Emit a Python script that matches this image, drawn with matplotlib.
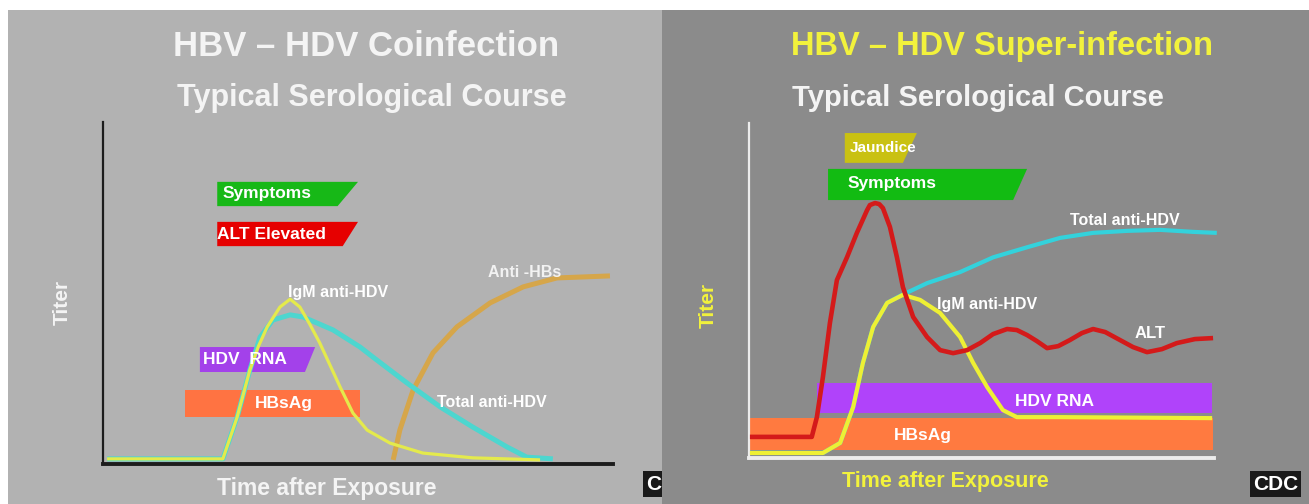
import matplotlib
matplotlib.use("Agg")
import matplotlib.pyplot as plt
from matplotlib.patches import Rectangle

plt.rcParams["font.family"] = ["Liberation Sans", "DejaVu Sans"]
plt.rcParams["font.weight"] = "bold"

W, H = 1309, 504

# ---- left panel: HBV - HDV coinfection (time 0-100, titer 0-100) ----
co_igm_t = [0.8, 23.5, 26.3, 28.8, 30.5, 32.2, 34.7, 36.7, 38.6, 40.5, 42.5, 46.5, 49.0, 51.8, 56.3, 62.7, 72.5, 85.7]
co_igm_v = [1.5, 1.5, 13.7, 27.5, 34.5, 40.1, 45.9, 48.2, 45.9, 41.0, 35.4, 22.5, 14.9, 9.9, 6.1, 3.2, 1.8, 1.2]

co_total_t = [0.8, 23.5, 26.3, 28.8, 30.8, 33.3, 36.7, 39.2, 45.1, 50.4, 52.9, 59.6, 66.1, 72.5, 79.2, 83.1, 88.2]
co_total_v = [1.5, 1.5, 13.7, 27.5, 37.1, 42.1, 43.6, 43.0, 39.2, 34.2, 31.3, 23.7, 16.7, 10.8, 5.0, 2.0, 1.5]

co_antihbs_t = [56.9, 58.2, 60.8, 64.7, 69.4, 75.9, 82.4, 89.0, 99.4]
co_antihbs_v = [1.2, 9.9, 21.6, 32.5, 40.1, 47.1, 51.8, 54.4, 55.0]

# bars: label, start, end, bottom, top, slant of right end
co_bar_names = ["Symptoms", "ALT Elevated", "HDV RNA", "HBsAg"]
co_bar_start = [22.4, 22.4, 19.0, 16.1]
co_bar_end = [50.0, 50.0, 41.6, 50.4]
co_bar_bottom = [75.4, 63.7, 26.9, 13.7]
co_bar_top = [82.5, 70.8, 34.2, 21.6]
co_bar_slant = [4.0, 3.0, 2.0, 0.0]
co_bar_colors = ["#17b817", "#e60000", "#a341ea", "#ff7342"]

# ---- right panel: HBV - HDV super-infection ----
su_alt_t = [0.2, 13.5, 14.6, 15.9, 17.4, 18.9, 21.1, 23.2, 25.4, 26.0, 27.1, 28.0, 28.8, 30.3, 31.8, 33.1, 35.3,
            38.3, 41.1, 43.9, 46.9, 49.7, 52.5, 55.5, 57.6, 59.8, 61.9, 64.1, 66.5, 69.0, 71.6, 74.0, 76.6,
            79.8, 82.6, 85.6, 88.8, 92.0, 95.9, 99.8]
su_alt_v = [6.3, 6.3, 12.2, 24.2, 40.3, 53.1, 60.0, 67.2, 74.0, 75.5, 76.1, 75.8, 74.6, 69.0, 60.0, 51.0, 42.1,
            36.1, 32.2, 31.3, 32.2, 34.3, 37.0, 38.5, 38.2, 36.7, 34.9, 32.8, 33.4, 35.2, 37.3, 38.5, 37.6,
            35.2, 33.1, 31.6, 32.5, 34.3, 35.5, 35.8]

su_total_t = [0.2, 15.9, 19.6, 22.4, 24.5, 26.7, 29.7, 32.5, 38.3, 45.4, 52.5, 59.8, 66.9, 74.0, 81.3, 88.4, 95.5, 100.6]
su_total_v = [1.5, 1.5, 4.5, 15.2, 28.4, 39.1, 46.3, 48.4, 52.2, 55.5, 59.9, 62.9, 65.7, 67.2, 67.8, 68.1, 67.5, 67.2]

su_igm_t = [0.2, 15.9, 19.6, 22.4, 24.5, 26.7, 29.7, 33.1, 36.8, 41.1, 45.4, 48.2, 51.2, 54.6, 57.6, 66.9, 99.6]
su_igm_v = [1.5, 1.5, 4.5, 15.2, 28.4, 39.1, 46.3, 48.7, 47.2, 43.3, 36.1, 28.4, 21.2, 14.3, 12.2, 12.2, 11.9]

su_bar_names = ["Jaundice", "Symptoms", "HDV RNA", "HBsAg"]
su_bar_start = [20.6, 17.0, 14.6, 0.2]
su_bar_end = [36.1, 59.8, 99.6, 99.8]
su_bar_bottom = [88.1, 77.0, 13.4, 2.4]
su_bar_top = [97.0, 86.3, 22.4, 11.9]
su_bar_slant = [3.0, 3.0, 0.0, 0.0]
su_bar_colors = ["#c9c112", "#12bb12", "#b043fa", "#ff7a40"]

fig = plt.figure(figsize=(W / 100, H / 100), dpi=100)
fig.patch.set_facecolor("white")


def fx(px):
    return px / W


def fy(py):
    return 1 - py / H


# panel backgrounds
fig.add_artist(Rectangle((fx(8), 0), fx(662) - fx(8), fy(10), transform=fig.transFigure,
                         facecolor="#b2b2b2", edgecolor="none", zorder=0))
fig.add_artist(Rectangle((fx(662), 0), 1 - fx(662), fy(10), transform=fig.transFigure,
                         facecolor="#8b8b8b", edgecolor="none", zorder=1))


def draw_bars(ax, start, end, bottom, top, slant, colors):
    for s, e, b, t, sl, c in zip(start, end, bottom, top, slant, colors):
        ax.fill([s, s, e, e - sl], [b, t, t, b], color=c, lw=0, zorder=1)


def setup(ax, spine_color, left_w, bottom_w):
    ax.set_xlim(0, 100)
    ax.set_ylim(0, 100)
    ax.patch.set_alpha(0)
    ax.set_xticks([])
    ax.set_yticks([])
    for s in ["top", "right"]:
        ax.spines[s].set_visible(False)
    ax.spines["left"].set_color(spine_color)
    ax.spines["bottom"].set_color(spine_color)
    ax.spines["left"].set_linewidth(left_w)
    ax.spines["bottom"].set_linewidth(bottom_w)
    ax.set_zorder(2)


lab = dict(color="white", fontweight="bold", zorder=5)

# ---- left ----
ax1 = fig.add_axes([fx(103), fy(464), (613 - 103) / W, (464 - 122) / H])
setup(ax1, "#1c1c1c", 1.6, 2.8)
draw_bars(ax1, co_bar_start, co_bar_end, co_bar_bottom, co_bar_top, co_bar_slant, co_bar_colors)
ax1.text(23.5, 79.0, co_bar_names[0], fontsize=12.5, va="center", **lab)
ax1.text(22.4, 67.2, co_bar_names[1], fontsize=12.5, va="center", **lab)
ax1.text(19.6, 30.6, "HDV  RNA", fontsize=12.5, va="center", **lab)
ax1.text(35.5, 17.6, co_bar_names[3], fontsize=12.5, va="center", ha="center", **lab)
ax1.plot(co_antihbs_t, co_antihbs_v, color="#d6a64a", lw=3.6, solid_capstyle="butt",
         solid_joinstyle="round", zorder=2)
ax1.plot(co_total_t, co_total_v, color="#4dd6cf", lw=3.6, solid_capstyle="butt",
         solid_joinstyle="round", zorder=3)
ax1.plot(co_igm_t, co_igm_v, color="#e4ea4c", lw=2.3, solid_capstyle="butt",
         solid_joinstyle="round", zorder=4)
ax1.text(36.3, 50.0, "IgM anti-HDV", fontsize=11.5, va="center", **lab)
ax1.text(65.5, 18.1, "Total anti-HDV", fontsize=11.5, va="center", **lab)
ax1.text(75.5, 56.1, "Anti -HBs", fontsize=11.5, va="center", color="#f2f2f2", fontweight="bold", zorder=5)

fig.text(fx(366), fy(47), "HBV \u2013 HDV Coinfection", color="#f4f4f4", fontsize=25,
         fontweight="bold", ha="center", va="center", zorder=3)
fig.text(fx(372), fy(98), "Typical Serological Course", color="#f4f4f4", fontsize=22,
         fontweight="bold", ha="center", va="center", zorder=3)
fig.text(fx(62), fy(302), "Titer", color="#f4f4f4", fontsize=15, fontweight="bold",
         rotation=90, ha="center", va="center", zorder=3)
fig.text(fx(327), fy(489), "Time after Exposure", color="#f4f4f4", fontsize=16.5,
         fontweight="bold", ha="center", va="center", zorder=3)
fig.text(fx(646), fy(484), "CDC", color="white", fontsize=15, fontweight="bold",
         ha="left", va="center", zorder=0.5,
         bbox=dict(boxstyle="square,pad=0.15", facecolor="#1a1a1a", edgecolor="none"))

# ---- right ----
ax2 = fig.add_axes([fx(749), fy(458), (1214 - 749) / W, (458 - 123) / H])
setup(ax2, "#ececec", 1.6, 2.8)
draw_bars(ax2, su_bar_start, su_bar_end, su_bar_bottom, su_bar_top, su_bar_slant, su_bar_colors)
ax2.text(21.7, 92.5, su_bar_names[0], fontsize=11, va="center", **lab)
ax2.text(21.3, 81.8, su_bar_names[1], fontsize=12.5, va="center", **lab)
ax2.text(57.2, 16.9, su_bar_names[2], fontsize=12.5, va="center", **lab)
ax2.text(37.4, 6.6, su_bar_names[3], fontsize=12.5, va="center", ha="center", **lab)
ax2.plot(su_total_t, su_total_v, color="#33d2dc", lw=3.0, solid_capstyle="butt",
         solid_joinstyle="round", zorder=2, clip_on=False)
ax2.plot(su_igm_t, su_igm_v, color="#eef034", lw=3.0, solid_capstyle="butt",
         solid_joinstyle="round", zorder=3)
ax2.plot(su_alt_t, su_alt_v, color="#d41a1a", lw=3.3, solid_capstyle="butt",
         solid_joinstyle="round", zorder=4)
ax2.text(69.0, 71.0, "Total anti-HDV", fontsize=11.5, va="center", **lab)
ax2.text(40.4, 45.7, "IgM anti-HDV", fontsize=11.5, va="center", **lab)
ax2.text(83.0, 37.3, "ALT", fontsize=12, va="center", **lab)

fig.text(fx(1002), fy(47), "HBV \u2013 HDV Super-infection", color="#f2f23c", fontsize=23.5,
         fontweight="bold", ha="center", va="center", zorder=3)
fig.text(fx(978), fy(98), "Typical Serological Course", color="#f4f4f4", fontsize=21,
         fontweight="bold", ha="center", va="center", zorder=3)
fig.text(fx(708), fy(305), "Titer", color="#f2f23c", fontsize=15, fontweight="bold",
         rotation=90, ha="center", va="center", zorder=3)
fig.text(fx(945), fy(482), "Time after Exposure", color="#f2f23c", fontsize=15.5,
         fontweight="bold", ha="center", va="center", zorder=3)
fig.text(fx(1253), fy(484), "CDC", color="white", fontsize=15, fontweight="bold",
         ha="left", va="center", zorder=3,
         bbox=dict(boxstyle="square,pad=0.15", facecolor="#1a1a1a", edgecolor="none"))

fig.savefig("out.png", dpi=100)
